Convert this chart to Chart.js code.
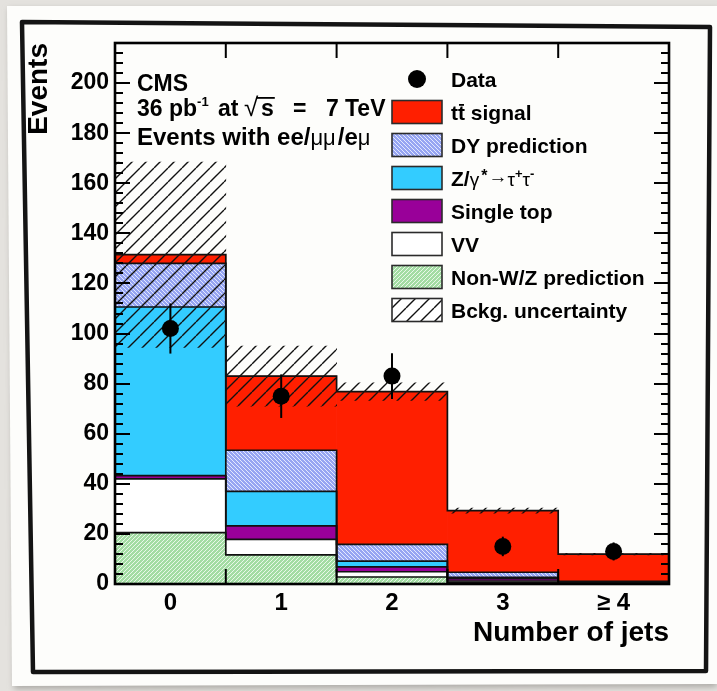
<!DOCTYPE html>
<html lang="en">
<head>
<meta charset="utf-8">
<title>Number of jets — dilepton events</title>
<script src="https://cdn.jsdelivr.net/npm/chart.js@4.4.1/dist/chart.umd.min.js"></script>
<style>
  html, body { margin: 0; padding: 0; }
  body { width: 717px; height: 691px; position: relative; overflow: hidden; background: #e4e2de; }
  #sheet { position: absolute; left: 0; top: 0; }
  #plot { position: absolute; left: 0; top: 0; }
</style>
</head>
<body>
<svg id="sheet" width="717" height="691" viewBox="0 0 717 691">
  <defs>
    <filter id="soft" x="-10%" y="-10%" width="120%" height="120%"><feGaussianBlur stdDeviation="3"/></filter>
  </defs>
  <polygon points="9,9 717,9 717,687 14,689" fill="#aaa8a4" filter="url(#soft)"/>
  <polygon points="7,6 717,6 717,684 12,686" fill="#fdfdfb"/>
  <polygon points="22,22 710,27 706,671 33,672" fill="none" stroke="#141414" stroke-width="4.5" stroke-linejoin="round"/>
</svg>
<canvas id="plot" width="717" height="691"></canvas>
<script>
// Jet multiplicity bins
const jetBins = ['0', '1', '2', '3', '≥ 4'];

// Expected events per bin, stacked from bottom to top
const nonWZ        = [20.5, 11.6,  2.8,  0.7,  0.2];
const dibosonVV    = [21.5,  6.2,  2.1,  0.5,  0.2];
const singleTop    = [ 1.3,  5.4,  1.9,  0.9,  0.3];
const zTauTau      = [67.3, 13.8,  2.3,  0.6,  0.1];
const dyPrediction = [17.4, 16.4,  6.7,  2.0,  0.3];
const ttSignal     = [ 3.5, 29.6, 61.0, 24.6, 10.8];

// Half-width of the background uncertainty band around the stack top
const bkgUncertainty = [37, 12, 3.5, 1.0, 0.3];

// Observed events with statistical errors
const observed    = [102, 75, 83, 15, 13];
const observedErr = [10, 8.7, 9.1, 3.9, 3.6];

// Vertical axis
const yTicks = [0, 20, 40, 60, 80, 100, 120, 140, 160, 180, 200];
const yMax = 216;
const yMinorStep = 4;

// ---------------------------------------------------------------
const FAMILY = '"Liberation Sans", Arial, Helvetica, sans-serif';
const bold = s => `bold ${s}px ${FAMILY}`;
const plain = s => `${s}px ${FAMILY}`;

function hatchPattern(size, bg, line, width, dir) {
  const c = document.createElement('canvas');
  c.width = c.height = size;
  const g = c.getContext('2d');
  if (bg) { g.fillStyle = bg; g.fillRect(0, 0, size, size); }
  g.strokeStyle = line;
  g.lineWidth = width;
  g.beginPath();
  for (let k = -1; k <= 1; k++) {
    if (dir === '/') { g.moveTo(k * size, size); g.lineTo(k * size + size, 0); }
    else { g.moveTo(k * size, 0); g.lineTo(k * size + size, size); }
  }
  g.stroke();
  return g.createPattern(c, 'repeat');
}

const ctx = document.getElementById('plot').getContext('2d');

const colTT = '#ff1f00';
const colZTT = '#33ccff';
const colST = '#990099';
const colVV = '#ffffff';
const patDY = hatchPattern(4, '#96a5f2', '#e4e9fe', 1, '\\');
const patNonWZ = hatchPattern(4, '#a3dca3', '#e9f8e9', 1, '/');
const patUnc = hatchPattern(14, null, '#111111', 1.4, '/');

const components = [
  { label: 'Non-W/Z prediction', data: nonWZ, color: patNonWZ },
  { label: 'VV', data: dibosonVV, color: colVV },
  { label: 'Single top', data: singleTop, color: colST },
  { label: 'Z/γ*→τ⁺τ⁻', data: zTauTau, color: colZTT },
  { label: 'DY prediction', data: dyPrediction, color: patDY },
  { label: 'tt̄ signal', data: ttSignal, color: colTT },
];

const stackTotal = jetBins.map((_, i) => components.reduce((s, c) => s + c.data[i], 0));

const datasets = components.map(c => ({
  type: 'bar',
  label: c.label,
  data: c.data,
  backgroundColor: c.color,
  borderWidth: 0,
  stack: 'expected',
  order: 2,
  barPercentage: 1,
  categoryPercentage: 1,
}));

const UNC = datasets.length;
datasets.push({
  type: 'bar',
  label: 'Bckg. uncertainty',
  data: stackTotal.map((t, i) => [t - bkgUncertainty[i], t + bkgUncertainty[i]]),
  backgroundColor: patUnc,
  borderWidth: 0,
  stack: 'uncertainty',
  grouped: false,
  order: 1,
  barPercentage: 1,
  categoryPercentage: 1,
});

const DATA = datasets.length;
datasets.push({
  type: 'line',
  label: 'Data',
  data: observed,
  showLine: false,
  stack: 'observed',
  order: 0,
  pointRadius: 8.5,
  pointHoverRadius: 8.5,
  pointBackgroundColor: '#000',
  pointBorderWidth: 0,
});

// Step outline of each cumulative histogram (drawn before the hatch band),
// and vertical error bars (drawn before the data markers)
const histOutline = {
  id: 'histOutline',
  beforeDatasetDraw(chart, args) {
    const g = chart.ctx, xs = chart.scales.x, ys = chart.scales.y;
    if (args.index === UNC) {
      const n = jetBins.length;
      const edge = i => xs.getPixelForValue(i - 0.5);
      const y0 = ys.getPixelForValue(0);
      g.save();
      g.strokeStyle = '#111';
      g.lineWidth = 1.7;
      components.forEach((_, k) => {
        const meta = chart.getDatasetMeta(k);
        g.beginPath();
        g.moveTo(edge(0), y0);
        for (let i = 0; i < n; i++) {
          const top = meta.data[i].y;
          g.lineTo(edge(i), top);
          g.lineTo(edge(i + 1), top);
        }
        g.lineTo(edge(n), y0);
        g.stroke();
      });
      g.restore();
    }
    if (args.index === DATA) {
      g.save();
      g.strokeStyle = '#000';
      g.lineWidth = 2;
      observed.forEach((v, i) => {
        const x = xs.getPixelForValue(i);
        g.beginPath();
        g.moveTo(x, ys.getPixelForValue(v - observedErr[i]));
        g.lineTo(x, ys.getPixelForValue(v + observedErr[i]));
        g.stroke();
      });
      g.restore();
    }
  }
};

// Draws a run of text pieces (sub/superscripts, overbars) on one baseline
function rich(g, x, baseline, parts, font) {
  let cx = x;
  for (const p of parts) {
    g.font = p.f || font;
    const px = p.at !== undefined ? x + p.at : cx;
    const w = g.measureText(p.t).width;
    g.fillText(p.t, px, baseline + (p.dy || 0));
    if (p.bar) g.fillRect(px + p.bar[0], baseline - p.bar[1], w - p.bar[0] + (p.bar[2] || 0), 1.8);
    cx = px + w + (p.gap || 0);
  }
  return cx;
}

// Legend and labels inside the frame
const annotations = {
  id: 'annotations',
  afterDatasetsDraw(chart) {
    const g = chart.ctx, a = chart.chartArea;
    g.save();
    g.fillStyle = '#000';
    g.textAlign = 'left';
    g.textBaseline = 'alphabetic';

    const tx = a.left + 22;
    rich(g, tx, 91, [{ t: 'CMS' }], bold(23));
    rich(g, tx, 116, [
      { t: '36 pb' },
      { t: '-1', f: bold(13), dy: -10, gap: 0 },
      { t: 'at', at: 81 },
      { t: '√', at: 107, f: plain(26) },
      { t: 's', at: 124, bar: [-4, 19, 1] },
      { t: '=', at: 156 },
      { t: '7', at: 189 },
      { t: 'TeV', at: 208 },
    ], bold(23));
    rich(g, tx, 145, [
      { t: 'Events with ee/' },
      { t: 'μμ', f: plain(22), gap: 2 },
      { t: '/e' },
      { t: 'μ', f: plain(22) },
    ], bold(24));

    // legend
    const bx = a.left + 277, bw = 50, bh = 23, step = 33, y0 = a.top + 36;
    const textX = bx + 59;
    const rows = [
      { marker: true, parts: [{ t: 'Data' }] },
      { fill: colTT, parts: [{ t: 't' }, { t: 't', bar: [1, 16, -1] }, { t: ' signal' }] },
      { fill: patDY, parts: [{ t: 'DY prediction' }] },
      { fill: colZTT, parts: [
        { t: 'Z/' }, { t: 'γ', f: plain(19), gap: 2 }, { t: '*', f: bold(16), dy: -5, gap: 1 },
        { t: '→', f: plain(19), dy: -3, gap: 0 }, { t: 'τ', f: plain(19) }, { t: '+', f: bold(13), dy: -8 },
        { t: 'τ', f: plain(19) }, { t: '-', f: bold(13), dy: -8 },
      ] },
      { fill: colST, parts: [{ t: 'Single top' }] },
      { fill: colVV, parts: [{ t: 'VV' }] },
      { fill: patNonWZ, parts: [{ t: 'Non-W/Z prediction' }] },
      { fill: patUnc, white: true, parts: [{ t: 'Bckg. uncertainty' }] },
    ];
    rows.forEach((r, i) => {
      const cy = y0 + i * step;
      if (r.marker) {
        g.beginPath();
        g.arc(bx + bw / 2, cy, 9, 0, Math.PI * 2);
        g.fillStyle = '#000';
        g.fill();
      } else {
        if (r.white) { g.fillStyle = '#fff'; g.fillRect(bx, cy - bh / 2, bw, bh); }
        g.fillStyle = r.fill;
        g.fillRect(bx, cy - bh / 2, bw, bh);
        g.lineWidth = 1.6;
        g.strokeStyle = '#2b2b2b';
        g.strokeRect(bx, cy - bh / 2, bw, bh);
      }
      g.fillStyle = '#000';
      rich(g, textX, cy + 8, r.parts, bold(21));
    });
    g.restore();
  }
};

// Axis frame with inward-pointing ticks on all four sides
const frameTicks = {
  id: 'frameTicks',
  afterDraw(chart) {
    const g = chart.ctx, a = chart.chartArea, xs = chart.scales.x, ys = chart.scales.y;
    g.save();
    g.strokeStyle = '#000';
    g.lineWidth = 2;
    g.beginPath();
    for (let v = 0; v <= yMax; v += yMinorStep) {
      const y = Math.round(ys.getPixelForValue(v));
      const len = yTicks.includes(v) ? 15 : 8;
      g.moveTo(a.left, y); g.lineTo(a.left + len, y);
      g.moveTo(a.right, y); g.lineTo(a.right - len, y);
    }
    for (let i = 1; i < jetBins.length; i++) {
      const x = xs.getPixelForValue(i - 0.5);
      g.moveTo(x, a.top); g.lineTo(x, a.top + 15);
      g.moveTo(x, a.bottom); g.lineTo(x, a.bottom - 15);
    }
    g.stroke();
    g.lineWidth = 2.6;
    g.strokeRect(a.left, a.top, a.right - a.left, a.bottom - a.top);
    g.restore();
  }
};

Chart.defaults.color = '#000';
Chart.defaults.font.family = FAMILY;

new Chart(ctx, {
  data: { labels: jetBins, datasets },
  options: {
    responsive: false,
    devicePixelRatio: 1,
    animation: false,
    events: [],
    layout: { padding: { top: 43, right: 48, left: 0, bottom: 0 } },
    plugins: { legend: { display: false }, tooltip: { enabled: false } },
    scales: {
      x: {
        type: 'category',
        offset: true,
        grid: { display: false, drawTicks: false },
        border: { display: false },
        ticks: { font: { size: 24, weight: 'bold' }, padding: 5, maxRotation: 0 },
        title: { display: true, text: 'Number of jets', align: 'end', font: { size: 28, weight: 'bold' }, padding: { top: 0, bottom: 41 } },
        afterFit: s => { s.height = 107; },
      },
      y: {
        type: 'linear',
        stacked: true,
        min: 0,
        max: yMax,
        grid: { display: false, drawTicks: false },
        border: { display: false },
        ticks: { font: { size: 23, weight: 'bold' }, padding: 6 },
        afterBuildTicks: s => { s.ticks = yTicks.map(v => ({ value: v })); },
        title: { display: true, text: 'Events', align: 'end', font: { size: 28, weight: 'bold' }, padding: { top: 22, bottom: 0 } },
        afterFit: s => { s.width = 115; },
      },
    },
  },
  plugins: [histOutline, annotations, frameTicks],
});
</script>
</body>
</html>
